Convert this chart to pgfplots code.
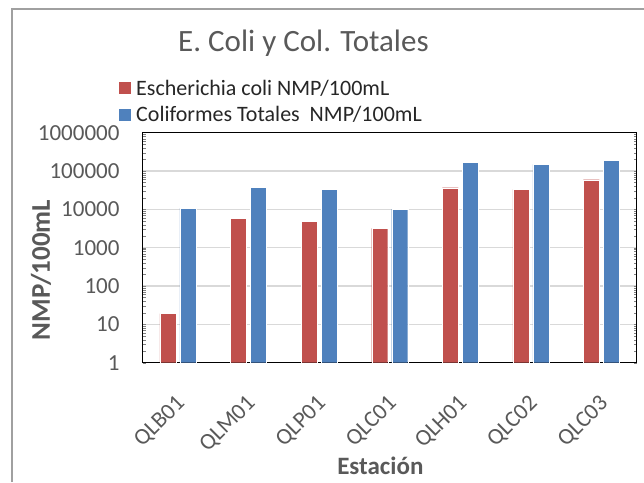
\documentclass[border=0pt]{standalone}
\usepackage{pgfplots}
\pgfplotsset{compat=1.18}
\usepackage{fontspec}
\setmainfont{Carlito}
\definecolor{ecoli}{HTML}{C0504D}
\definecolor{ctot}{HTML}{4F81BD}
\definecolor{txtgray}{HTML}{595959}
\definecolor{gridgray}{HTML}{D9D9D9}
\definecolor{framegray}{HTML}{A0A0A0}
\newcommand{\tf}{\fontsize{23pt}{27pt}\selectfont}
\begin{document}
\begin{tikzpicture}
\useasboundingbox (0pt,0pt) rectangle (644pt,482pt);
\draw[framegray, line width=1.3pt] (12pt,0pt) -- (12pt,473pt) -- (644pt,473pt);
\begin{axis}[
  at={(142.7pt,119.3pt)}, anchor=south west,
  scale only axis, width=494pt, height=230pt,
  ybar=4pt, bar width=16pt,
  ymode=log, ymin=1, ymax=1000000,
  xmin=-0.5, xmax=6.5,
  xtick={0,1,2,3,4,5,6},
  xticklabels={QLB01,QLM01,QLP01,QLC01,QLH01,QLC02,QLC03},
  ytick={1,10,100,1000,10000,100000,1000000},
  yticklabels={1,10,100,1000,10000,100000,1000000},
  minor ytick={}, major tick length=0pt,
  ymajorgrids, grid style={gridgray, line width=1.3pt},
  axis line style={black, line width=1.3pt},
  every tick label/.append style={font=\tf},
  yticklabel style={text=txtgray, inner sep=0pt, anchor=east, xshift=-23pt},
  xticklabel style={text=txtgray, inner sep=0pt, xshift=-3pt, yshift=-31pt, rotate=45, anchor=north east},
  title={E. Coli y Col. Totales},
  title style={at={(0.3255,1.325)}, anchor=base, font=\fontsize{31pt}{35pt}\selectfont, text=txtgray, inner sep=0pt},
  ylabel={NMP/100mL},
  ylabel style={at={(-0.206,0.403)}, anchor=center, rotate=0, font=\bfseries\fontsize{27pt}{30pt}\selectfont, text=txtgray, inner sep=0pt},
  xlabel={Estación},
  xlabel style={at={(0.481,-0.488)}, anchor=base, font=\bfseries\fontsize{25pt}{28pt}\selectfont, text=txtgray, inner sep=0pt},
  legend style={at={(-0.048,1.231)}, anchor=north west, draw=none, fill=none, inner sep=0pt,
    font=\fontsize{22pt}{26pt}\selectfont, text=black!85, row sep=10pt,
    nodes={inner sep=0pt},
    /tikz/every odd column/.append style={column sep=5pt}},
  legend cell align=left,
  legend image code/.code={\fill[#1, draw=none] (0pt,-6pt) rectangle (12pt,6pt);},
]
\addplot[fill=ecoli, draw=white, line width=0.4pt] coordinates {(0,19) (1,5830) (2,4860) (3,3200) (4,36700) (5,33200) (6,59400)};
\addplot[fill=ctot, draw=white, line width=0.4pt] coordinates {(0,10800) (1,37500) (2,33200) (3,10200) (4,165000) (5,149000) (6,194000)};
\legend{Escherichia coli NMP/100mL, Coliformes Totales\ \ NMP/100mL}
\end{axis}
\end{tikzpicture}
\end{document}
